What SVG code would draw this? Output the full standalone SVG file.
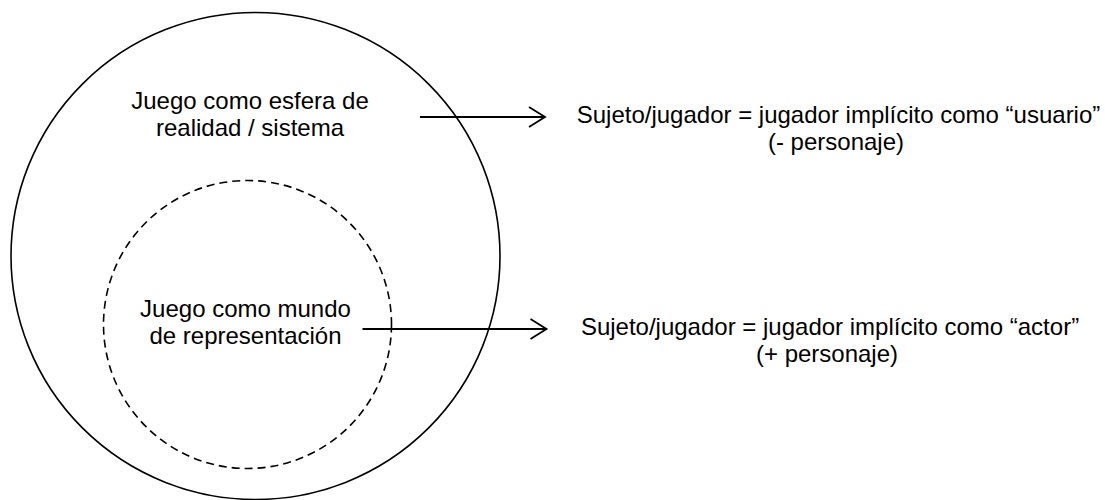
<svg xmlns="http://www.w3.org/2000/svg" width="1105" height="500" viewBox="0 0 1105 500">
  <style>
    .lbl { font-family: "Liberation Sans", Arial, sans-serif; font-size: 24px; fill: #000; }
    .ring { fill: none; stroke: #000; stroke-width: 1.6; }
    .dash { fill: none; stroke: #000; stroke-width: 1.6; stroke-dasharray: 8 5; }
    .conn { fill: none; stroke: #000; stroke-width: 1.8; }
  </style>
  <defs>
    <marker id="arrow" markerUnits="userSpaceOnUse" viewBox="-18 -12 20 24" markerWidth="20" markerHeight="24" refX="0" refY="0" orient="auto">
      <path d="M -16 -10 L 0 0 L -16 10" fill="none" stroke="#000" stroke-width="1.8"/>
    </marker>
  </defs>
  <rect width="1105" height="500" fill="#fff"/>

  <g id="sistema">
    <ellipse class="ring" cx="255.5" cy="256" rx="244.5" ry="243.5"/>
    <text class="lbl" text-anchor="middle" x="250" y="109">Juego como esfera de</text>
    <text class="lbl" text-anchor="middle" x="250" y="136">realidad / sistema</text>
  </g>

  <g id="representacion">
    <circle class="dash" cx="247.5" cy="324.5" r="144"/>
    <text class="lbl" text-anchor="middle" x="245.5" y="317">Juego como mundo</text>
    <text class="lbl" text-anchor="middle" x="245.5" y="344">de representación</text>
  </g>

  <g id="usuario">
    <text class="lbl" text-anchor="middle" x="838.5" y="123">Sujeto/jugador = jugador implícito como “usuario”</text>
    <text class="lbl" text-anchor="middle" x="836" y="150">(- personaje)</text>
  </g>

  <g id="actor">
    <text class="lbl" text-anchor="middle" x="830" y="335">Sujeto/jugador = jugador implícito como “actor”</text>
    <text class="lbl" text-anchor="middle" x="827" y="362">(+ personaje)</text>
  </g>

  <g id="connectors">
    <line class="conn" x1="420" y1="117" x2="545" y2="117" marker-end="url(#arrow)"/>
    <line class="conn" x1="362.5" y1="329" x2="546.5" y2="329" marker-end="url(#arrow)"/>
  </g>
</svg>
